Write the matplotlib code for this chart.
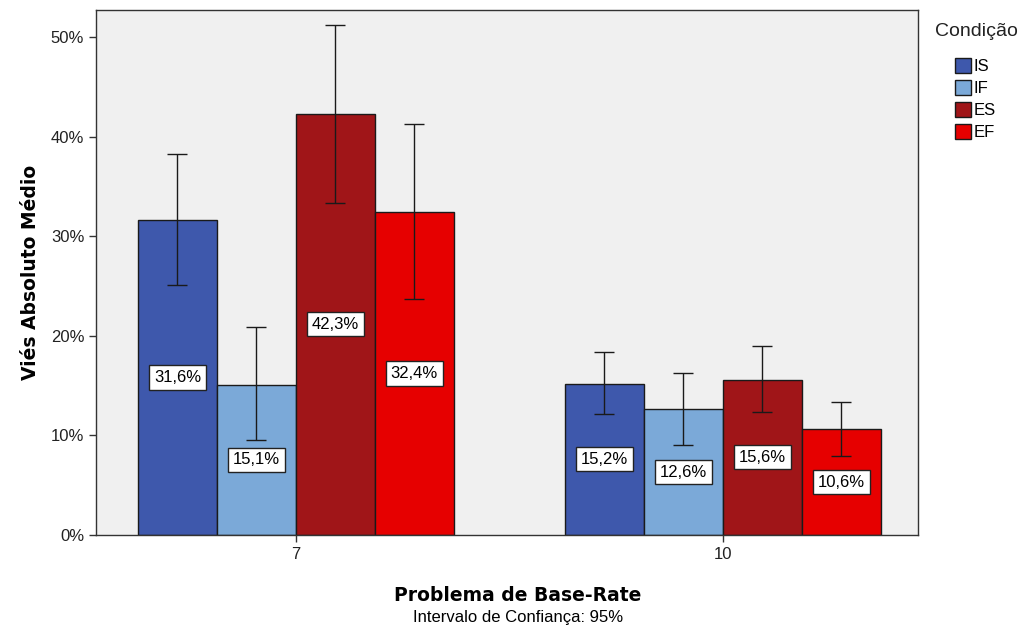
import matplotlib
matplotlib.use("Agg")
import matplotlib.pyplot as plt
import numpy as np
from matplotlib.patches import Patch

groups = ["7", "10"]
conditions = ["IS", "IF", "ES", "EF"]
means = {
    "IS": [31.6, 15.2],
    "IF": [15.1, 12.6],
    "ES": [42.3, 15.6],
    "EF": [32.4, 10.6],
}
ci_low = {
    "IS": [25.1, 12.1],
    "IF": [9.5, 9.0],
    "ES": [33.3, 12.3],
    "EF": [23.7, 7.9],
}
ci_high = {
    "IS": [38.2, 18.4],
    "IF": [20.9, 16.3],
    "ES": [51.2, 19.0],
    "EF": [41.3, 13.4],
}
labels = {
    "IS": ["31,6%", "15,2%"],
    "IF": ["15,1%", "12,6%"],
    "ES": ["42,3%", "15,6%"],
    "EF": ["32,4%", "10,6%"],
}
colors = {"IS": "#3E58AC", "IF": "#7BA9D8", "ES": "#A01518", "EF": "#E60000"}

plt.rcParams['font.family'] = ['Liberation Sans', 'DejaVu Sans']

fig = plt.figure(figsize=(10.26, 6.3), dpi=100)
ax = fig.add_axes([0.0936, 0.1508, 0.8012, 0.8333])
ax.set_facecolor("#F0F0F0")

x = np.arange(len(groups))
w = 0.185
offsets = [-1.5, -0.5, 0.5, 1.5]
for c, off in zip(conditions, offsets):
    pos = x + off * w
    m = np.array(means[c])
    lo = m - np.array(ci_low[c])
    hi = np.array(ci_high[c]) - m
    ax.bar(pos, m, width=w, color=colors[c], edgecolor="#1a1a1a", linewidth=1.0, zorder=2, label=c)
    ax.errorbar(pos, m, yerr=[lo, hi], fmt="none", ecolor="#1a1a1a", elinewidth=1.0,
                capsize=7, capthick=1.0, zorder=3)
    for p, v, t in zip(pos, m, labels[c]):
        ax.text(p, v / 2, t, ha="center", va="center", fontsize=12, color="black", zorder=4,
                bbox=dict(boxstyle="square,pad=0.28", facecolor="white", edgecolor="#222222", linewidth=1.0))

ax.set_xlim(-0.468, 1.457)
ax.set_ylim(0, 52.7)
ax.set_xticks(x)
ax.set_xticklabels(groups, fontsize=12)
ax.set_yticks(np.arange(0, 51, 10))
ax.set_yticklabels([f"{v}%" for v in range(0, 51, 10)], fontsize=12)
ax.tick_params(axis="both", direction="out", length=5, width=1, colors="#333333", labelcolor="#222222")
for s in ax.spines.values():
    s.set_color("#333333")
    s.set_linewidth(1.0)

ax.set_ylabel("Viés Absoluto Médio", fontsize=13.5, fontweight="bold", family="DejaVu Sans", labelpad=8)
fig.text(0.505, 0.055, "Problema de Base-Rate", ha="center", va="center", fontsize=13.5,
         fontweight="bold", family="DejaVu Sans")
fig.text(0.505, 0.02, "Intervalo de Confiança: 95%", ha="center", va="center", fontsize=12)

fig.text(935 / 1026, 1 - 32 / 630, "Condição", ha="left", va="center", fontsize=14, color="#222222")
handles = [Patch(facecolor=colors[c], edgecolor="#1a1a1a", label=c) for c in conditions]
leg = fig.legend(handles=handles, loc="upper left", bbox_to_anchor=(943 / 1026, 1 - 46 / 630), frameon=False,
                 fontsize=12, handlelength=1.0, handleheight=1.0, borderpad=0.2,
                 handletextpad=0.15, labelspacing=0.36)

fig.savefig("out.png", dpi=100, facecolor="white")
